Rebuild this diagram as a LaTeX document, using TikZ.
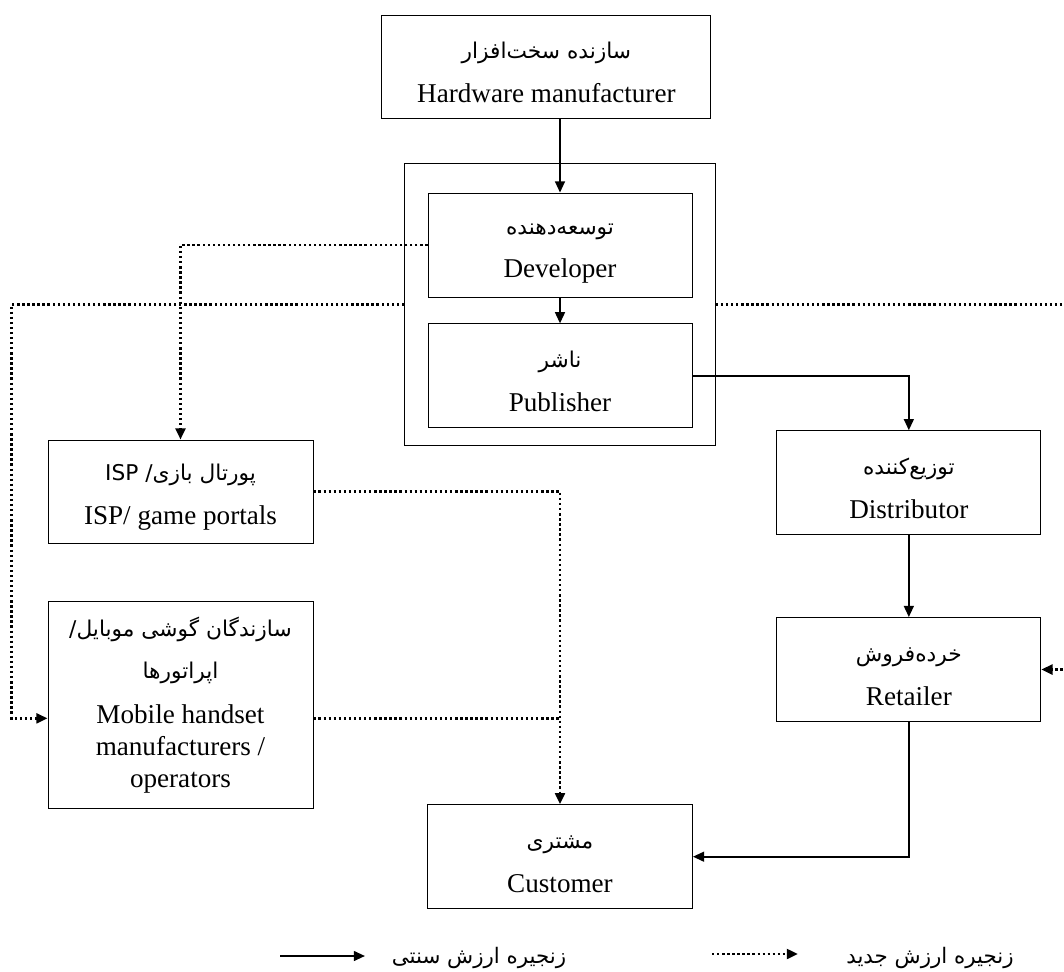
\documentclass[tikz,border=0pt]{standalone}
\usepackage{fontspec}
\setmainfont{Liberation Serif}
\newfontfamily\fafont[Script=Arabic,Scale=0.8]{DejaVu Sans}
\TeXXeTstate=1
\newcommand{\fatext}[1]{{\fafont\beginR #1\endR}}
\newcommand{\fahead}[2][20pt]{\rule{0pt}{#1}\fatext{#2}}
\usetikzlibrary{positioning, fit, calc, arrows.meta}
\tikzset{
  stage/.style={
    rectangle, draw, line width=0.6pt,
    minimum width=6.6cm, minimum height=2.6cm, inner sep=0pt,
    align=center, font=\fontsize{19.3}{31}\selectfont
  },
  key/.style={inner sep=0pt, font=\fontsize{19}{22}\selectfont},
  trad/.style={line width=1.4pt, -{Triangle[length=8pt,width=7pt]}},
  newv/.style={line width=1.9pt, dash pattern=on 1.7pt off 1.9pt, -{Triangle[length=8pt,width=7pt]}},
  newline/.style={line width=1.9pt, dash pattern=on 1.7pt off 1.9pt},
}

\begin{document}
\begin{tikzpicture}[node distance=0.65cm and 2.1cm]
  \useasboundingbox (0,0) rectangle (26.6,-24.3);
  \clip (0,0) rectangle (26.6,-24.3);

  \node (dev)  [stage] at (14,-6.125) {\fahead{توسعه‌دهنده}\\Developer};
  \node (pub)  [stage, below=of dev] {\fahead{ناشر}\\Publisher};
  \node (hw)   [stage, minimum width=8.225cm, minimum height=2.575cm,
                above=1.85cm of dev, xshift=-0.34cm] {\fahead{سازنده سخت‌افزار}\\Hardware manufacturer};
  \node (grp)  [draw, line width=0.6pt, fit=(dev)(pub), inner xsep=0.575cm,
                inner ysep=0.575cm, yshift=0.15cm] {};
  \node (dist) [stage, below right=0.05cm and 2.1cm of pub] {\fahead{توزیع‌کننده}\\Distributor};
  \node (ret)  [stage, below=2.05cm of dist] {\fahead{خرده‌فروش}\\Retailer};
  \node (isp)  [stage, minimum width=6.625cm, minimum height=2.575cm]
               at (4.5125,-12.2875) {\fahead{پورتال بازی/ \beginL ISP\endL}\\ISP/ game portals};
  \node (mob)  [stage, minimum width=6.625cm, minimum height=5.175cm, below=1.45cm of isp,
                font=\fontsize{19.3}{22.8}\selectfont]
               {\fahead[10.5pt]{سازندگان گوشی موبایل/}\\[7pt]\fatext{اپراتورها}\\[9pt]Mobile handset\\manufacturers /\\operators};
  \node (cust) [stage, minimum width=6.625cm, below=9.4cm of pub] {\fahead{مشتری}\\Customer};

  % entry and exit points on the mobile box
  \coordinate (mobin)  at ($(mob.west)+(0,-0.325)$);
  \coordinate (mobout) at ($(mob.east)+(0,-0.325)$);

  % traditional chain
  \draw [trad] (hw.south -| dev.north) -- (dev.north);
  \draw [trad] (dev) -- (pub);
  \draw [trad] (pub.east) -| (dist.north);
  \draw [trad] (dist) -- (ret);
  \draw [trad] (ret.south) |- (cust.east);

  % new chain
  \draw [newv] (dev.west) -| (isp.north);
  \draw [newv] (grp.west) -| ($(mobin)+(-0.9,0)$) -- (mobin);
  \draw [newv] (grp.east) -| ($(ret.east)+(1,0)$) -- (ret.east);
  \draw [newv] (isp.east) -| (cust.north);
  \draw [newline] (mobout) -- (mobout -| cust.north);

  % legend
  \node (tradkey) [key] at (11.975,-23.95) {\fatext{زنجیره ارزش سنتی}};
  \node (newkey)  [key] at (23.25,-23.95) {\fatext{زنجیره ارزش جدید}};
  \coordinate (tradA) at (7,-23.9);
  \coordinate (tradB) at (9.125,-23.9);
  \coordinate (newA) at (17.8,-23.85);
  \coordinate (newB) at (19.95,-23.85);
  \draw [trad] (tradA) -- (tradB);
  \draw [newv] (newA) -- (newB);
\end{tikzpicture}
\end{document}
